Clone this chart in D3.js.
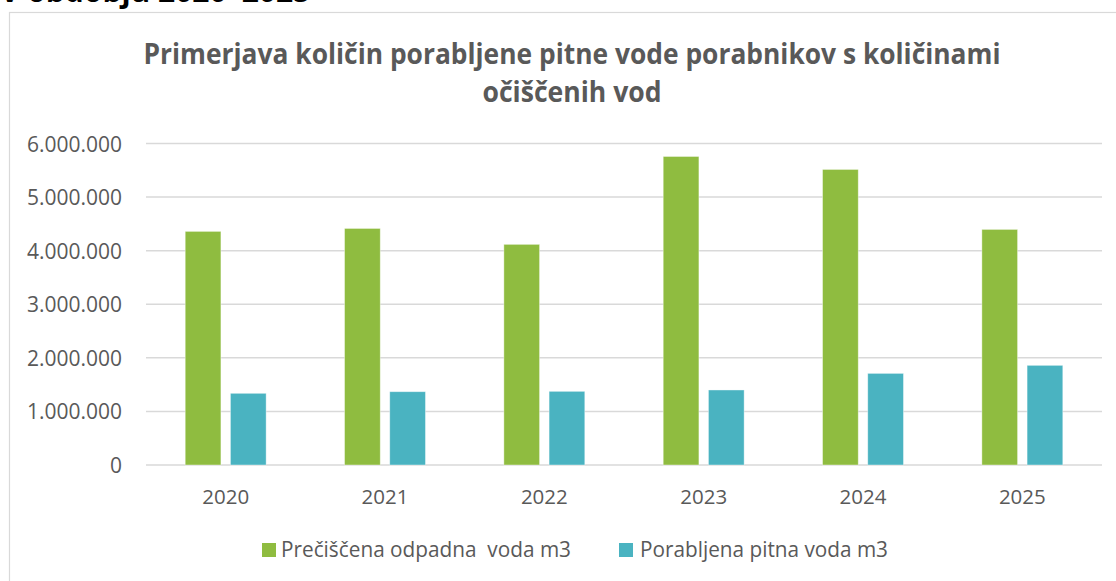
<!DOCTYPE html>
<html>
<head>
<meta charset="utf-8">
<script src="https://cdn.jsdelivr.net/npm/d3@7"></script>
<style>
  html, body { margin: 0; padding: 0; background: #fff; }
  svg { display: block; }
  text { font-family: "Open Sans", "Lato", sans-serif; }
</style>
</head>
<body>
<svg id="chart" width="1116" height="581"></svg>
<script>
// ---- data ----
const categories = ["2020", "2021", "2022", "2023", "2024", "2025"];
const seriesNames = ["Prečiščena odpadna  voda m3", "Porabljena pitna voda m3"];
const wastewater = [4360000, 4415000, 4118000, 5758000, 5516000, 4397000];
const drinking = [1338000, 1368000, 1375000, 1400000, 1710000, 1860000];
const yTicks = [0, 1000000, 2000000, 3000000, 4000000, 5000000, 6000000];
const titleLines = ["Primerjava količin porabljene pitne vode porabnikov s količinami", "očiščenih vod"];
const headerText = "V obdobju 2020–2025";
const colors = ["#8FBC40", "#4AB3C1"];

const svg = d3.select("#chart");
const W = 1116, H = 581;

// cropped header text above chart
svg.append("text").attr("x", 0).attr("y", 2).attr("font-size", 30).attr("font-weight", 700)
  .attr("fill", "#000").attr("font-family", "Lato, sans-serif").text(headerText);

// chart border
svg.append("rect").attr("x", 9.5).attr("y", 12.5).attr("width", W + 20).attr("height", H + 20)
  .attr("fill", "none").attr("stroke", "#D9D9D9").attr("stroke-width", 1.2);

// title
const titleCfg = [{y: 64, len: 857}, {y: 102, len: 179}];
titleLines.forEach((t, i) => {
  svg.append("text").attr("x", 572).attr("y", titleCfg[i].y)
    .attr("text-anchor", "middle").attr("font-size", 29).attr("font-weight", 700)
    .attr("fill", "#595959")
    .attr("textLength", titleCfg[i].len).attr("lengthAdjust", "spacingAndGlyphs")
    .text(t);
});

// scales
const x0 = d3.scaleBand().domain(categories).range([146, 1102]).padding(0);
const bw = x0.bandwidth();
const groupW = bw * 0.508;
const x1 = d3.scaleBand().domain([0, 1])
  .range([(bw - groupW) / 2, (bw + groupW) / 2]).paddingInner(0.21).paddingOuter(0);
const y = d3.scaleLinear().domain([0, 6000000]).range([465, 143.5]);

// gridlines
svg.append("g").selectAll("line").data(yTicks).join("line")
  .attr("x1", 146).attr("x2", 1102)
  .attr("y1", d => y(d)).attr("y2", d => y(d))
  .attr("stroke", "#D9D9D9").attr("stroke-width", 1.5);

// y axis labels via d3 axis
const fmt = d => d === 0 ? "0" : d3.format(",")(d).replace(/,/g, ".");
const yAxis = svg.append("g").attr("transform", "translate(146,0)")
  .call(d3.axisLeft(y).tickValues(yTicks).tickFormat(fmt).tickSize(0).tickPadding(24));
yAxis.select(".domain").remove();
yAxis.selectAll("text").attr("font-size", 21).attr("fill", "#595959")
  .attr("font-family", "'Open Sans', sans-serif").attr("dy", "0.36em");

// bars
const series = [wastewater, drinking];
const groups = svg.append("g").selectAll("g").data(categories).join("g")
  .attr("transform", d => `translate(${x0(d)},0)`);
groups.selectAll("rect").data((c, ci) => series.map((s, si) => ({si, v: s[ci]}))).join("rect")
  .attr("x", d => x1(d.si)).attr("width", x1.bandwidth())
  .attr("y", d => y(d.v)).attr("height", d => y(0) - y(d.v))
  .attr("fill", d => colors[d.si])
  .attr("stroke", "#ffffff").attr("stroke-opacity", 0.5).attr("stroke-width", 0.8);

// x axis labels
const xAxis = svg.append("g").attr("transform", "translate(0,465)")
  .call(d3.axisBottom(x0).tickSize(0).tickPadding(24));
xAxis.select(".domain").remove();
xAxis.selectAll("text").attr("font-size", 20.5).attr("fill", "#595959")
  .attr("font-family", "'Open Sans', sans-serif");

// legend
const legendCfg = [{sx: 262, tx: 281, len: 290}, {sx: 619, tx: 640, len: 248}];
seriesNames.forEach((n, i) => {
  svg.append("rect").attr("x", legendCfg[i].sx).attr("y", 543).attr("width", 14).attr("height", 14)
    .attr("fill", colors[i]);
  svg.append("text").attr("x", legendCfg[i].tx).attr("y", 557)
    .attr("font-size", 21).attr("fill", "#595959")
    .style("white-space", "pre")
    .attr("textLength", legendCfg[i].len).attr("lengthAdjust", "spacingAndGlyphs")
    .text(n);
});
</script>
</body>
</html>
